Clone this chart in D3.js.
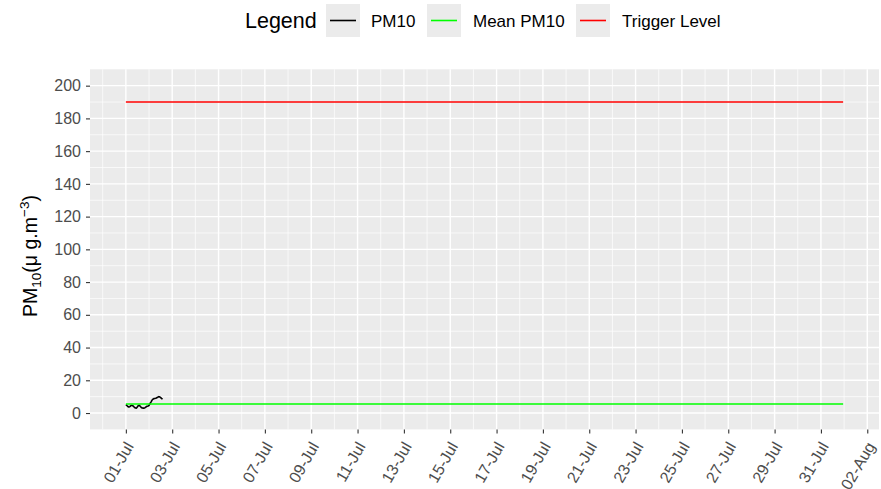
<!DOCTYPE html>
<html><head><meta charset="utf-8">
<script src="https://cdn.jsdelivr.net/npm/d3@7"></script>
<style>body{margin:0;background:#fff}svg{display:block}text{font-family:"Liberation Sans",Arial,sans-serif}</style>
</head><body><svg id="c" width="881" height="489"></svg>
<script>
// ---- data ----
const pm10Start = "2021-07-01T00:00:00Z";
const pm10Values = [5.1,4.6,4.0,3.7,3.9,4.4,4.7,4.5,4.0,3.4,3.1,3.0,3.8,4.6,4.7,4.0,3.4,3.1,3.0,3.0,3.3,3.8,4.1,4.3,4.6,5.8,6.7,7.8,8.4,8.8,8.9,9.0,9.3,9.6,10.0,9.9,9.4,8.9,8.5];
const meanPM10 = 5.5;
const triggerLevel = 190;
const periodStart = "2021-07-01T00:00:00Z";
const periodEnd = "2021-07-31T23:00:00Z";
const yTicks = [0,20,40,60,80,100,120,140,160,180,200];
const xTickLabels = ["01-Jul","03-Jul","05-Jul","07-Jul","09-Jul","11-Jul","13-Jul","15-Jul","17-Jul","19-Jul","21-Jul","23-Jul","25-Jul","27-Jul","29-Jul","31-Jul","02-Aug"];
const legendLabels = ["PM10","Mean PM10","Trigger Level"];
const legendColors = ["#000000","#00ff00","#ff0000"];

// ---- layout ----
const svg = d3.select("#c");
const P = {l:90, r:879, t:69.3, b:429.4};
const t0 = new Date(periodStart), t1 = new Date(periodEnd);
const span = t1 - t0;
const x = d3.scaleUtc().domain([new Date(+t0 - 0.05*span), new Date(+t1 + 0.05*span)]).range([P.l, P.r]);
const y = d3.scaleLinear().domain([-10, 210]).range([P.b, P.t]);
const parseLab = d3.utcParse("%d-%b-%Y");
const xTickDates = xTickLabels.map(s => parseLab(s + "-2021"));
const DAY = 864e5;

svg.append("rect").attr("x",P.l).attr("y",P.t).attr("width",P.r-P.l).attr("height",P.b-P.t).attr("fill","#EBEBEB");

// minor grid
const yMinor = d3.pairs(yTicks).map(([a,b]) => (a+b)/2);
let xMinor = xTickDates.map(d => new Date(+d - DAY));
xMinor.push(new Date(+xTickDates[xTickDates.length-1] + DAY));
xMinor = xMinor.filter(d => x(d) > P.l && x(d) < P.r);
const g = svg.append("g");
g.selectAll(".ym").data(yMinor).join("line").attr("x1",P.l).attr("x2",P.r).attr("y1",d=>y(d)).attr("y2",d=>y(d)).attr("stroke","#fff").attr("stroke-width",0.7);
g.selectAll(".xm").data(xMinor).join("line").attr("y1",P.t).attr("y2",P.b).attr("x1",d=>x(d)).attr("x2",d=>x(d)).attr("stroke","#fff").attr("stroke-width",0.7);
g.selectAll(".yM").data(yTicks).join("line").attr("x1",P.l).attr("x2",P.r).attr("y1",d=>y(d)).attr("y2",d=>y(d)).attr("stroke","#fff").attr("stroke-width",1.4);
g.selectAll(".xM").data(xTickDates).join("line").attr("y1",P.t).attr("y2",P.b).attr("x1",d=>x(d)).attr("x2",d=>x(d)).attr("stroke","#fff").attr("stroke-width",1.4);

// lines
const pm = pm10Values.map((v,i) => ({t:new Date(+new Date(pm10Start) + i*36e5), v}));
const line = d3.line().x(d=>x(d.t)).y(d=>y(d.v));
svg.append("path").datum(pm).attr("d",line).attr("fill","none").attr("stroke",legendColors[0]).attr("stroke-width",1.6).attr("stroke-linejoin","round");
svg.append("path").datum([{t:t0,v:meanPM10},{t:t1,v:meanPM10}]).attr("d",line).attr("fill","none").attr("stroke",legendColors[1]).attr("stroke-width",1.5);
svg.append("path").datum([{t:t0,v:triggerLevel},{t:t1,v:triggerLevel}]).attr("d",line).attr("fill","none").attr("stroke",legendColors[2]).attr("stroke-width",1.5);

// y axis
const ya = svg.append("g").attr("transform",`translate(${P.l},0)`)
  .call(d3.axisLeft(y).tickValues(yTicks).tickSize(4).tickPadding(5));
ya.select(".domain").remove();
ya.selectAll(".tick line").attr("stroke","#333").attr("stroke-width",1.1);
ya.selectAll(".tick text").attr("fill","#4D4D4D").style("font-size","16px").style("font-family",'"Liberation Sans",Arial,sans-serif');

// x axis
const xa = svg.append("g").attr("transform",`translate(0,${P.b})`)
  .call(d3.axisBottom(x).tickValues(xTickDates).tickFormat(d3.utcFormat("%d-%b")).tickSize(4));
xa.select(".domain").remove();
xa.selectAll(".tick line").attr("stroke","#333").attr("stroke-width",1.1);
xa.selectAll(".tick text").attr("fill","#4D4D4D").style("font-size","16px").style("font-family",'"Liberation Sans",Arial,sans-serif')
  .attr("text-anchor","end").attr("y",0).attr("dy","0.35em")
  .attr("transform","translate(3,14) rotate(-60)");

// y title
const yt = svg.append("text").attr("transform","translate(36.5,256) rotate(-90)").attr("text-anchor","middle")
  .style("font-size","19.5px").attr("fill","#000");
yt.append("tspan").text("PM");
yt.append("tspan").attr("baseline-shift","-25%").style("font-size","13.5px").text("10");
yt.append("tspan").text("(μ g.m");
yt.append("tspan").attr("baseline-shift","55%").style("font-size","13.5px").text("−3");
yt.append("tspan").text(")");

// legend
const lg = svg.append("g");
lg.append("text").attr("x",245).attr("y",28).style("font-size","21.5px").attr("fill","#000").text("Legend");
const keyX = [326, 427, 576];
const labX = [371, 473, 622];
legendLabels.forEach((lab,i) => {
  lg.append("rect").attr("x",keyX[i]).attr("y",4).attr("width",34).attr("height",33).attr("fill","#EBEBEB");
  lg.append("line").attr("x1",keyX[i]+4).attr("x2",keyX[i]+30).attr("y1",20.5).attr("y2",20.5).attr("stroke",legendColors[i]).attr("stroke-width",1.6);
  lg.append("text").attr("x",labX[i]).attr("y",26.5).style("font-size","17px").attr("fill","#000").text(lab);
});
</script></body></html>
